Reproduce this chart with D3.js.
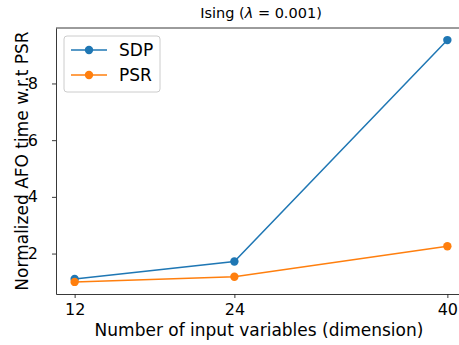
<!DOCTYPE html>
<meta charset="utf-8">
<style>
html, body { margin: 0; padding: 0; background: #fff; }
text { font-family: "DejaVu Sans", sans-serif; fill: #000; }
.axis path, .axis line { stroke: #222; stroke-width: 0.9; }
.line { fill: none; stroke-width: 1.5; }
</style>
<body>
<script src="https://d3js.org/d3.v7.min.js"></script>
<script>
// data
var dims = [12, 24, 40];
var sdp = [1.10, 1.72, 9.53];
var psr = [1.00, 1.18, 2.26];
var yTicks = [2, 4, 6, 8];
var seriesNames = ["SDP", "PSR"];
var colors = ["#1f77b4", "#ff7f0e"];

var W = 459, H = 345;
var margin = {top: 28, right: -7, bottom: 51, left: 56};
var width = W - margin.left - margin.right,
    height = H - margin.top - margin.bottom;

var svg = d3.select("body").append("svg")
    .attr("width", W)
    .attr("height", H);

var g = svg.append("g")
    .attr("transform", "translate(" + margin.left + "," + margin.top + ")");

// matplotlib-style 5% margins
var xPad = (d3.max(dims) - d3.min(dims)) * 0.05;
var allY = sdp.concat(psr);
var yPad = (d3.max(allY) - d3.min(allY)) * 0.05;

var x = d3.scaleLinear()
    .domain([d3.min(dims) - xPad, d3.max(dims) + xPad])
    .range([0, width]);
var y = d3.scaleLinear()
    .domain([d3.min(allY) - yPad, d3.max(allY) + yPad])
    .range([height, 0]);

g.append("g")
    .attr("class", "axis")
    .attr("transform", "translate(0," + height + ")")
    .call(d3.axisBottom(x).tickValues(dims).tickSize(4).tickPadding(6).tickSizeOuter(0));
g.append("g")
    .attr("class", "axis")
    .call(d3.axisLeft(y).tickValues(yTicks).tickSize(4).tickPadding(14).tickSizeOuter(0));

g.selectAll(".axis text").style("font-size", "16px").style("font-family", "DejaVu Sans");

// top spine
g.append("line")
    .attr("x1", 0).attr("x2", width)
    .attr("y1", 0).attr("y2", 0)
    .attr("stroke", "#222").attr("stroke-width", 0.9);

var line = d3.line()
    .x(function(d, i) { return x(dims[i]); })
    .y(function(d) { return y(d); });

[sdp, psr].forEach(function(s, k) {
  g.append("path")
      .datum(s)
      .attr("class", "line")
      .attr("stroke", colors[k])
      .attr("d", line);
  g.selectAll(".pt" + k)
      .data(s)
    .enter().append("circle")
      .attr("cx", function(d, i) { return x(dims[i]); })
      .attr("cy", function(d) { return y(d); })
      .attr("r", 4.2)
      .attr("fill", colors[k]);
});

// title
var title = svg.append("text")
    .attr("x", margin.left + width / 2)
    .attr("y", 18)
    .attr("text-anchor", "middle")
    .style("font-size", "14.5px");
title.append("tspan").text("Ising (");
title.append("tspan").style("font-style", "italic").text("λ");
title.append("tspan").text(" = 0.001)");

// axis labels
svg.append("text")
    .attr("x", 259)
    .attr("y", 335.5)
    .attr("text-anchor", "middle")
    .style("font-size", "17px")
    .text("Number of input variables (dimension)");

svg.append("text")
    .attr("transform", "translate(27.5," + (margin.top + height / 2) + ") rotate(-90)")
    .attr("text-anchor", "middle")
    .style("font-size", "17px")
    .text("Normalized AFO time w.r.t PSR");

// legend
var legend = svg.append("g").attr("transform", "translate(64,36)");
legend.append("rect")
    .attr("width", 96).attr("height", 56)
    .attr("rx", 3)
    .attr("fill", "#fff").attr("fill-opacity", 0.8)
    .attr("stroke", "#ccc").attr("stroke-width", 1);
seriesNames.forEach(function(name, k) {
  var row = legend.append("g").attr("transform", "translate(0," + (14 + k * 25) + ")");
  row.append("line")
      .attr("x1", 7).attr("x2", 43)
      .attr("stroke", colors[k]).attr("stroke-width", 1.5);
  row.append("circle").attr("cx", 25).attr("r", 4.2).attr("fill", colors[k]);
  row.append("text")
      .attr("x", 55).attr("y", 6)
      .style("font-size", "17px")
      .text(name);
});
</script>
</body>
